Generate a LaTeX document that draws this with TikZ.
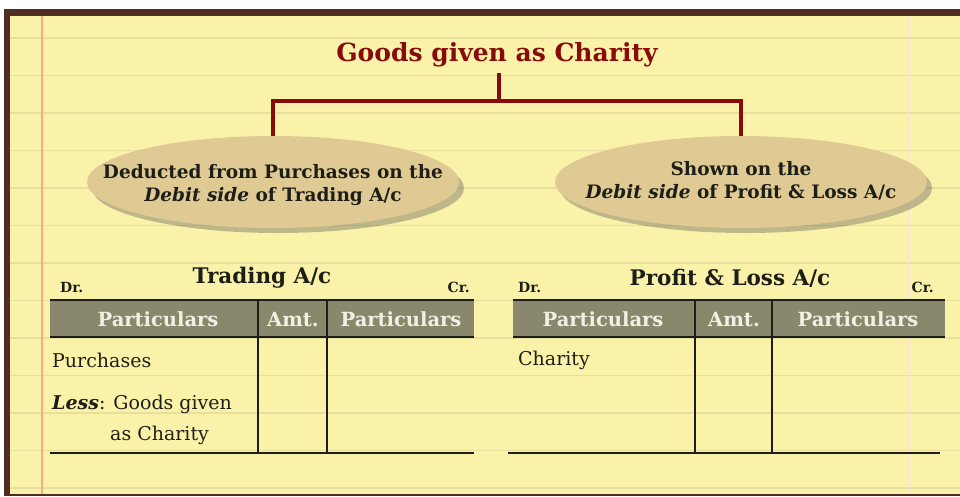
\documentclass[tikz,border=0pt]{standalone}
\usepackage{fontspec}
\setmainfont{DejaVu Serif}
\usetikzlibrary{shapes.geometric}
\definecolor{paper}{HTML}{FBF2A9}
\definecolor{ruleln}{HTML}{E8DE9E}
\definecolor{framec}{HTML}{4F2D22}
\definecolor{crimson}{HTML}{880B0B}
\definecolor{tanfill}{HTML}{DFCA94}
\definecolor{headfill}{HTML}{8A886C}
\definecolor{headtxt}{HTML}{F2F0E2}
\definecolor{marginc}{HTML}{F4A98A}
\definecolor{ink}{HTML}{1E1E18}
\tikzset{
  titlebox/.style={text=crimson, font=\fontsize{25}{28}\selectfont\bfseries, inner sep=0pt},
  conn/.style={draw=crimson, line width=4.5pt},
  bubble/.style={ellipse, fill=tanfill, minimum width=372pt, minimum height=92pt, inner sep=0pt},
  bubbletext/.style={align=center, text=ink, font=\fontsize{18.5}{23}\selectfont\bfseries, inner sep=0pt},
  shadowell/.style={fill=black!65, opacity=0.38},
  acctitle/.style={text=ink, font=\fontsize{21.5}{24}\selectfont\bfseries, inner sep=0pt},
  drcr/.style={text=ink, font=\fontsize{14}{16}\selectfont\bfseries, inner sep=0pt},
  headtext/.style={text=headtxt, font=\fontsize{19.5}{22}\selectfont\bfseries, inner sep=0pt},
  bodytext/.style={text=ink, font=\fontsize{19}{22}\selectfont, inner sep=0pt, anchor=west},
  thick line/.style={draw=ink, line width=2.5pt},
  col line/.style={draw=ink, line width=2pt},
}
\begin{document}
\begin{tikzpicture}[x=1pt,y=-1pt]
\useasboundingbox (0,0) rectangle (960,496);
\fill[white] (0,0) rectangle (960,496);
\fill[framec] (4,9) rectangle (960,496);
\fill[paper] (10,16) rectangle (960,494);
\foreach \y in {38,75.5,...,489} \draw[ruleln, line width=1.5pt] (10,\y) -- (960,\y);
\draw[marginc, line width=1.5pt] (42,16) -- (42,494);
\draw[marginc!35, line width=1pt] (908,16) -- (908,494);

% title and connectors
\node[titlebox] (title) at (497,55) {Goods given as Charity};
\fill[shadowell] (278,188) ellipse (186 and 45);
\fill[shadowell] (746,188) ellipse (186 and 45);
\node[bubble] (e1) at (273,182) {};
\node[bubble] (e2) at (741,182) {};
\node[bubbletext] (e1t) at (273,185) {Deducted from Purchases on the\\\textit{Debit side} of Trading A/c};
\node[bubbletext] (e2t) at (741,181) {Shown on the\\\textit{Debit side} of Profit \& Loss A/c};
\coordinate (ttop) at (499,73);
\coordinate (jn) at (499,101);
\draw[conn] (ttop) -- (jn);
\draw[conn] (e1.north) |- (jn) -| (e2.north);

% Trading A/c
\node[drcr, anchor=base west] (dr1) at (60,292) {Dr.};
\node[acctitle] (t1) at (262,278) {Trading A/c};
\node[drcr, anchor=base east] (cr1) at (470,292) {Cr.};
\fill[headfill] (50,300) rectangle (474,337);
\draw[thick line] (50,300) -- (474,300);
\draw[thick line] (50,337) -- (474,337);
\draw[col line] (258,300) -- (258,453);
\draw[col line] (327,300) -- (327,453);
\draw[thick line] (50,453) -- (474,453);
\node[headtext] (h11) at (158,319) {Particulars};
\node[headtext] (h12) at (293,320) {Amt.};
\node[headtext] (h13) at (401,319) {Particulars};
\node[bodytext] (b11) at (52,360) {Purchases};
\node[bodytext] (b12) at (52,404) {\textbf{\textit{Less}}: Goods given};
\node[bodytext] (b13) at (110,435) {as Charity};

% Profit & Loss A/c
\node[drcr, anchor=base west] (dr2) at (518,292) {Dr.};
\node[acctitle] (t2) at (730,278) {Profit \& Loss A/c};
\node[drcr, anchor=base east] (cr2) at (934,292) {Cr.};
\fill[headfill] (513,300) rectangle (945,337);
\draw[thick line] (513,300) -- (945,300);
\draw[thick line] (513,337) -- (945,337);
\draw[col line] (695,300) -- (695,453);
\draw[col line] (772,300) -- (772,453);
\draw[thick line] (508,453) -- (940,453);
\node[headtext] (h21) at (603,319) {Particulars};
\node[headtext] (h22) at (734,320) {Amt.};
\node[headtext] (h23) at (858,319) {Particulars};
\node[bodytext] (b21) at (518,360) {Charity};
\end{tikzpicture}
\end{document}
